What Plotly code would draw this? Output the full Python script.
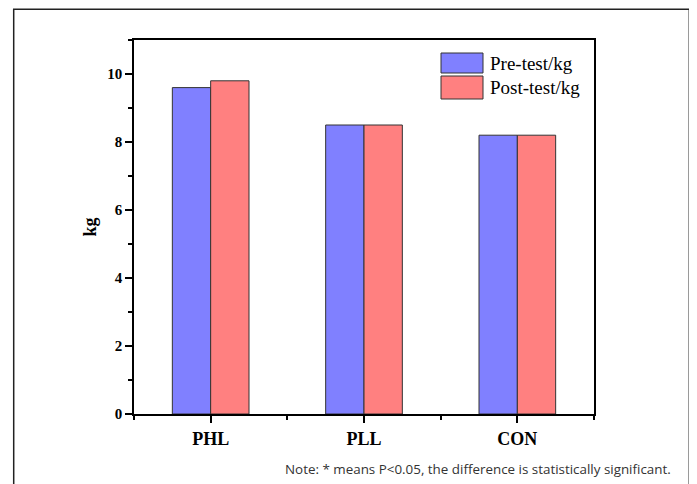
import plotly.graph_objects as go

categories = ["PHL", "PLL", "CON"]
pre_test = [9.6, 8.5, 8.2]
post_test = [9.8, 8.5, 8.2]
series_names = ["Pre-test/kg", "Post-test/kg"]
colors = ["#8080FF", "#FF8080"]
y_ticks = [0, 2, 4, 6, 8, 10]

xpos = list(range(len(categories)))

# page body has an 8px default margin; compensate so positions match the reference
OFF = 8
W, H = 697 - OFF, 484 - OFF
L, T = 134 - OFF, 40 - OFF
PW, PH = 460.0, 374.0

fig = go.Figure()
for name, vals, col in zip(series_names, [pre_test, post_test], colors):
    fig.add_trace(go.Bar(
        x=xpos, y=vals, name=name,
        marker=dict(color=col, line=dict(color="#333333", width=1)),
        showlegend=False,
    ))

serif = "Liberation Serif, Times New Roman, serif"

fig.update_layout(
    width=W, height=H,
    margin=dict(l=L, r=W - L - PW, t=T, b=H - T - PH, pad=0),
    paper_bgcolor="white", plot_bgcolor="white",
    barmode="group", bargap=0.5, bargroupgap=0,
    xaxis=dict(
        range=[-0.5, len(categories) - 0.5],
        tickmode="array", tickvals=xpos, ticktext=categories,
        ticks="outside", ticklen=7, tickwidth=1.5, tickcolor="black",
        minor=dict(tickmode="linear", tick0=0.5, dtick=1, ticks="outside",
                   ticklen=4, tickwidth=1.5, tickcolor="black"),
        showline=True, linecolor="black", linewidth=2, mirror=True,
        showgrid=False, zeroline=False,
        tickfont=dict(family=serif, size=18, color="black", weight="bold"),
    ),
    yaxis=dict(
        range=[0, 11],
        tickmode="array", tickvals=y_ticks,
        ticks="outside", ticklen=7, tickwidth=1.5, tickcolor="black",
        minor=dict(tickmode="linear", tick0=1, dtick=2, ticks="outside",
                   ticklen=4, tickwidth=1.5, tickcolor="black"),
        showline=True, linecolor="black", linewidth=1.5, mirror=True,
        showgrid=False, zeroline=False,
        tickfont=dict(family=serif, size=15, color="black", weight="bold"),
        title=dict(text="kg", font=dict(family=serif, size=18, color="black", weight="bold"),
                   standoff=6),
    ),
)

# helpers: reference pixel coords -> plot-area paper coords
def px(x):
    return (x - 134) / PW
def py(y):
    return (414 - y) / PH

legend_rows = [(53, 73), (76, 99)]
for (top, bot), name, col in zip(legend_rows, series_names, colors):
    fig.add_shape(type="rect", xref="paper", yref="paper",
                  x0=px(441), x1=px(483), y0=py(bot), y1=py(top),
                  fillcolor=col, line=dict(color="#333333", width=1))
    fig.add_annotation(xref="paper", yref="paper", x=px(488), y=py((top + bot) / 2),
                       text=name, showarrow=False, xanchor="left", yanchor="middle",
                       font=dict(family=serif, size=19, color="black"))

# outer frame
fig.add_shape(type="rect", xref="paper", yref="paper",
              x0=px(13.7), x1=px(689.3), y0=py(500), y1=py(9.3),
              line=dict(color="#222222", width=1.5), layer="below")

fig.add_annotation(xref="paper", yref="paper", x=px(673), y=py(469),
                   text="Note: * means P<0.05, the difference is statistically significant.",
                   showarrow=False, xanchor="right", yanchor="middle",
                   font=dict(family="Open Sans, Noto Sans, sans-serif", size=13.4, color="#333333"))

fig.write_html("out.html")
